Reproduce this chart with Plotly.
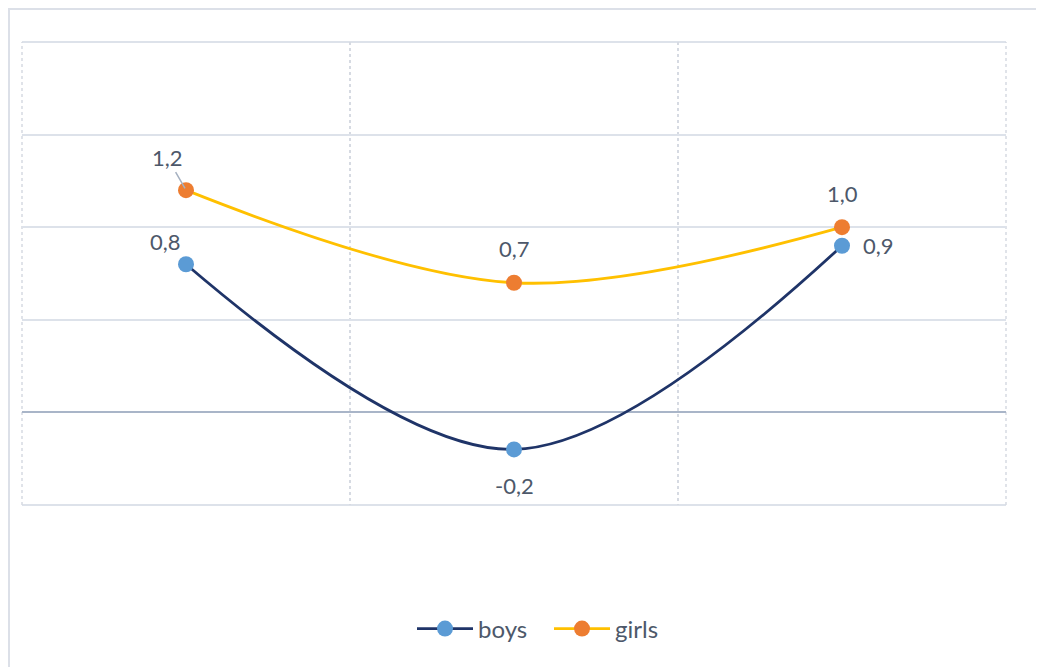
import plotly.graph_objects as go

categories = ["1", "2", "3"]
boys = [0.8, -0.2, 0.9]
girls = [1.2, 0.7, 1.0]
series_names = ["boys", "girls"]

# page has an 8px body margin; figure coordinates = page pixels - 8
OFF = 8
W, H = 1038, 659
L, T = 22 - OFF, 42 - OFF
R = W - (1006 - OFF)
B = H - (505 - OFF)
pw, ph = W - L - R, H - T - B

def px_x(px):
    return (px - OFF - L) / pw

def px_y(py):
    return (H - B - (py - OFF)) / ph

xs = list(range(len(categories)))

fig = go.Figure()
fig.add_trace(go.Scatter(
    x=xs, y=boys, name=series_names[0], mode="lines+markers",
    line=dict(color="#1F3468", width=2.8, shape="spline", smoothing=1.0),
    marker=dict(color="#5B9BD5", size=16),
))
fig.add_trace(go.Scatter(
    x=xs, y=girls, name=series_names[1], mode="lines+markers",
    line=dict(color="#FFC000", width=2.8, shape="spline", smoothing=1.0),
    marker=dict(color="#ED7D31", size=16),
))

def fmt(v):
    return f"{v:.1f}".replace(".", ",")

label_font = dict(family="Lato, Calibri, sans-serif", size=22, color="#4D586A")
boys_off = [(-21, 23), (0, -36), (36, 0)]
for xi, v, (dx, dy) in zip(xs, boys, boys_off):
    fig.add_annotation(x=xi, y=v, text=fmt(v), showarrow=False, xshift=dx, yshift=dy, font=label_font)
girls_off = [None, (0, 34), (0, 34)]
for xi, v, off in zip(xs, girls, girls_off):
    if off is None:
        fig.add_annotation(x=xi, y=v, text=fmt(v), showarrow=True, ax=-19, ay=-33,
                           arrowhead=0, arrowwidth=1.5, arrowcolor="#A5B0C0",
                           standoff=2, font=label_font)
    else:
        fig.add_annotation(x=xi, y=v, text=fmt(v), showarrow=False, xshift=off[0], yshift=off[1], font=label_font)

border = "#DCE0E8"
grid_h = "#DDE2EA"
grid_v = "#D6DAE2"
# outer chart border
fig.add_shape(type="line", xref="paper", yref="paper", x0=px_x(8), x1=px_x(1036), y0=px_y(9), y1=px_y(9),
              line=dict(color=border, width=2), layer="below")
fig.add_shape(type="line", xref="paper", yref="paper", x0=px_x(9), x1=px_x(9), y0=px_y(9), y1=px_y(680),
              line=dict(color=border, width=2), layer="below")
# plot-area edges (gridlines at range ends)
for yy in (0, 1):
    fig.add_shape(type="line", xref="paper", yref="paper", x0=0, x1=1, y0=yy, y1=yy,
                  line=dict(color=grid_h, width=2), layer="below")
for xx in (0, 1):
    fig.add_shape(type="line", xref="paper", yref="paper", x0=xx, x1=xx, y0=0, y1=1,
                  line=dict(color=grid_v, width=1.5, dash="dot"), layer="below")

fig.update_xaxes(
    range=[-0.5, len(categories) - 0.5],
    tickvals=[i - 0.5 for i in range(len(categories) + 1)],
    showticklabels=False, ticks="",
    showgrid=True, gridcolor=grid_v, griddash="dot", gridwidth=1.5,
    zeroline=False, showline=False,
)
fig.update_yaxes(
    range=[-0.5, 2.0], dtick=0.5, tick0=0,
    showticklabels=False, ticks="",
    showgrid=True, gridcolor=grid_h, gridwidth=2,
    zeroline=True, zerolinecolor="#A9B5C8", zerolinewidth=2,
    showline=False,
)

fig.update_layout(
    width=W, height=H,
    margin=dict(l=L, r=R, t=T, b=B),
    paper_bgcolor="white", plot_bgcolor="white",
    separators=",.",
    showlegend=True,
    legend=dict(orientation="h", x=px_x(549), xanchor="center", y=px_y(629), yanchor="middle",
                font=dict(family="Lato, Calibri, sans-serif", size=24, color="#4D586A"),
                itemwidth=56, entrywidth=66),
)

fig.write_html("out.html")
